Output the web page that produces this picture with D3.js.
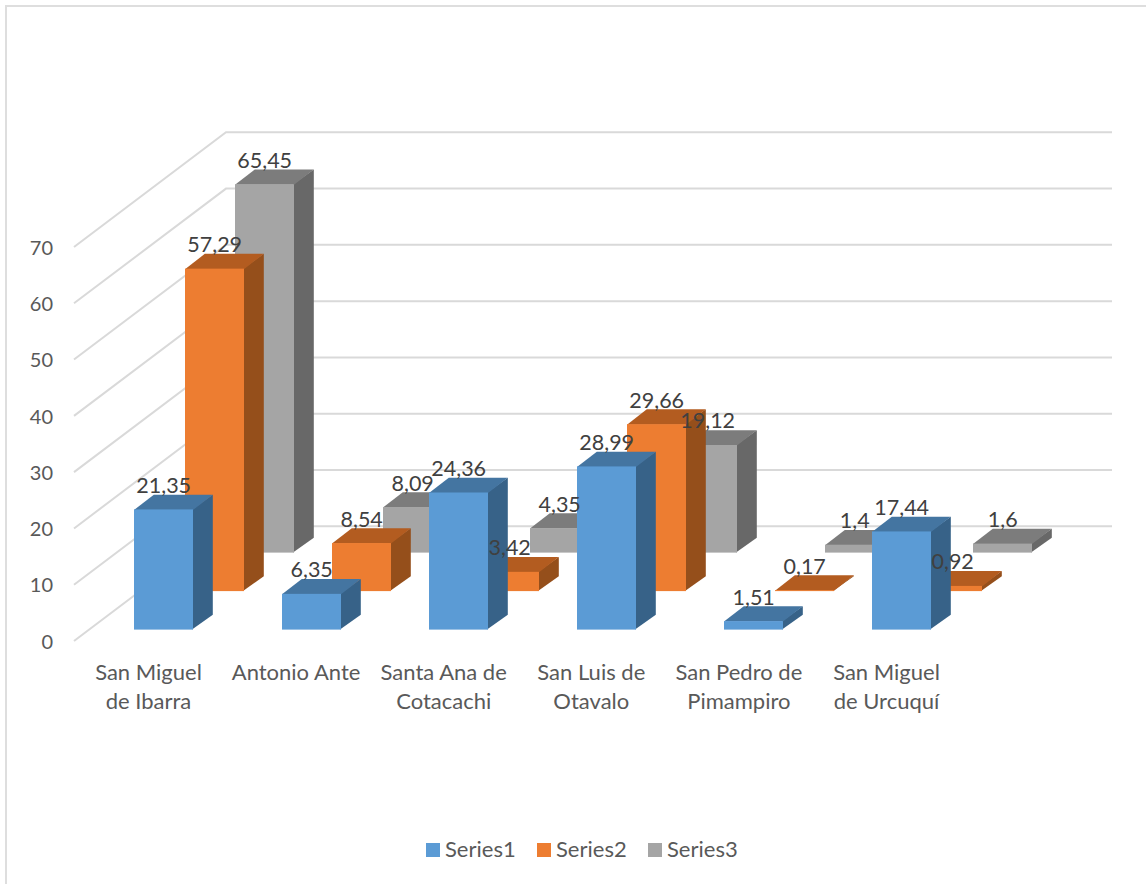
<!DOCTYPE html>
<html><head><meta charset="utf-8">
<script src="https://cdn.jsdelivr.net/npm/d3@7"></script>
<style>html,body{margin:0;padding:0;background:#fff;overflow:hidden}svg{display:block}text{font-family:Lato,"Open Sans",sans-serif}</style>
</head><body><div id="chart"></div>
<script>
const categories=[["San Miguel","de Ibarra"],["Antonio Ante"],["Santa Ana de","Cotacachi"],["San Luis de","Otavalo"],["San Pedro de","Pimampiro"],["San Miguel","de Urcuquí"]];
const seriesNames=["Series1","Series2","Series3"];
const series1=[21.35,6.35,24.36,28.99,1.51,17.44];
const series2=[57.29,8.54,3.42,29.66,0.17,0.92];
const series3=[65.45,8.09,4.35,19.12,1.4,1.6];
const valueTicks=[0,10,20,30,40,50,60,70];
const frontColors=["#5B9BD5","#ED7D31","#A5A5A5"];
const topColors=["#4475A1","#B35C20","#7C7C7C"];
const sideColors=["#376288","#954F1B","#686868"];

const W=1146,H=884;
const svg=d3.select("#chart").append("svg").attr("width",W).attr("height",H);
svg.append("path").attr("d",`M6,${H}V6H${W}`).attr("fill","none").attr("stroke","#dedede").attr("stroke-width",2);

const depthX=19.8,depthY=14.8,barW=59.4;
const y=d3.scaleLinear().domain([0,70]).range([0,-394]);
const x=d3.scaleBand().domain(d3.range(categories.length)).range([134,134+147.6*6]).paddingInner(0).align(0);
const seriesOffset=d3.scaleLinear().domain([0,2]).range([0,101]);
const seriesBase=d3.scaleLinear().domain([0,2]).range([629.6,552.6]);
const front={x0:74,y0:641},back={x0:226,y0:526.3},rightEnd=1112;

// walls
const grid=svg.append("g").attr("fill","none").attr("stroke","#d9d9d9").attr("stroke-width",2);
valueTicks.forEach(t=>{
  grid.append("polyline").attr("points",[[front.x0,front.y0+y(t)],[back.x0,back.y0+y(t)],[rightEnd,back.y0+y(t)]].map(p=>p.join(",")).join(" "));
});
// value axis
const axis=d3.axisLeft(d3.scaleLinear().domain([0,70]).range([641,247])).tickValues(valueTicks).tickSize(0).tickPadding(0);
const ag=svg.append("g").attr("transform","translate(53,0)").call(axis);
ag.select(".domain").remove();
ag.selectAll("text").attr("fill","#595959").style("font-size","20px").style("font-family","Lato,sans-serif").attr("text-anchor","end").attr("x",0).attr("dy","0.36em");

const all=[series1,series2,series3];
const layer=svg.append("g");
const labels=[];
[2,1,0].forEach(s=>{
  const g=layer.append("g");
  all[s].forEach((v,i)=>{
    const x0=Math.round(x(i)+seriesOffset(s)),base=seriesBase(s),top=base+y(v),x1=x0+Math.round(barW);
    g.append("polygon").attr("fill",sideColors[s]).attr("points",[[x1-1,top],[x1+depthX,top-depthY],[x1+depthX,base-depthY],[x1-1,base]].join(" "));
    g.append("polygon").attr("fill",topColors[s]).attr("points",[[x0,top+0.5],[x0+depthX,top-depthY],[x1+depthX,top-depthY],[x1,top+0.5]].join(" "));
    g.append("rect").attr("x",x0).attr("y",top).attr("width",x1-x0).attr("height",base-top).attr("fill",frontColors[s]);
    labels.push({v,cx:x0+barW/2,y:top-16.5});
  });
});
svg.append("g").selectAll("text").data(labels).join("text")
  .attr("x",d=>d.cx).attr("y",d=>d.y).attr("text-anchor","middle").attr("fill","#404040")
  .style("font-size","21.5px").text(d=>String(d.v).replace(".",","));

// category labels
const cg=svg.append("g").attr("fill","#595959").style("font-size","22px").attr("text-anchor","middle");
categories.forEach((lines,i)=>{
  lines.forEach((l,j)=>cg.append("text").attr("x",x(i)+14.5).attr("y",680+j*28.5).text(l));
});
// legend
const legX=[426,537,648];
const lg=svg.append("g");
seriesNames.forEach((n,i)=>{
  lg.append("rect").attr("x",legX[i]).attr("y",843).attr("width",14).attr("height",14).attr("fill",frontColors[i]);
  lg.append("text").attr("x",legX[i]+19).attr("y",856.5).attr("fill","#595959").style("font-size","22px").text(n);
});
</script></body></html>
